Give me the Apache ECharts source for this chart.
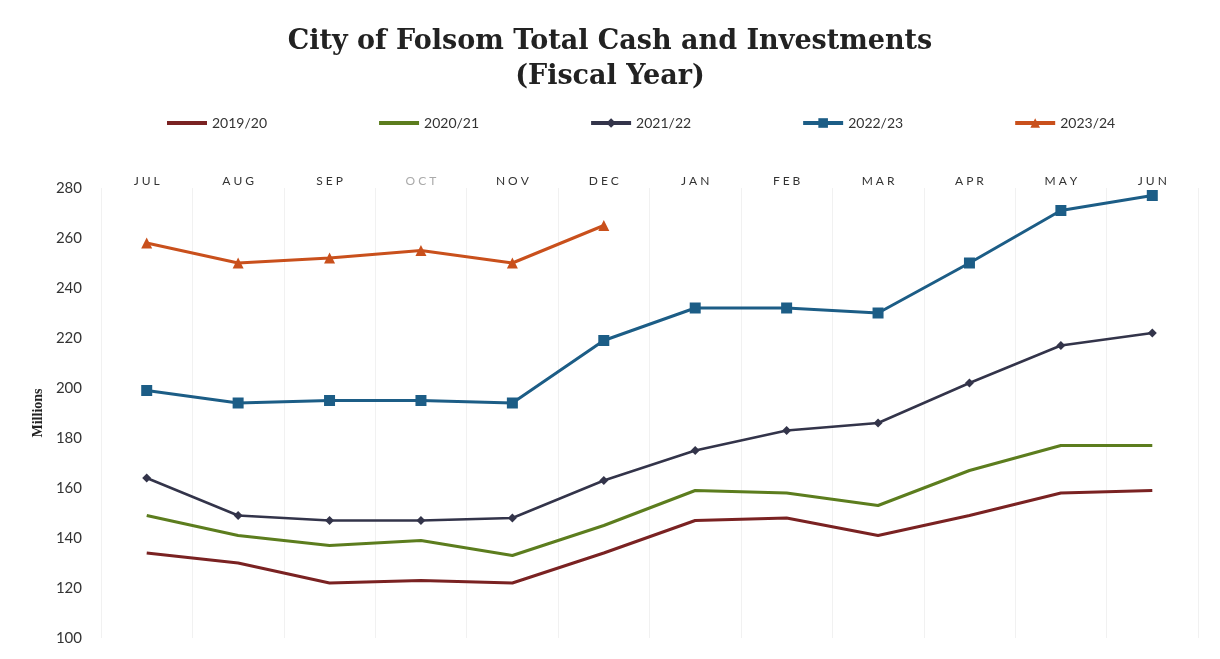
<!DOCTYPE html>
<html>
<head>
<meta charset="utf-8">
<script src="https://cdn.jsdelivr.net/npm/echarts@6/dist/echarts.min.js"></script>
<style>
  html, body { margin: 0; padding: 0; background: #fff; }
  #chart { width: 1220px; height: 659px; }
</style>
</head>
<body>
<div id="chart"></div>
<script>
// months of the fiscal year
const months = ['JUL', 'AUG', 'SEP', 'OCT', 'NOV', 'DEC', 'JAN', 'FEB', 'MAR', 'APR', 'MAY', 'JUN']
const yTicks = [100, 120, 140, 160, 180, 200, 220, 240, 260, 280]

// cash and investments, millions
const fy1920 = [134, 130, 122, 123, 122, 134, 147, 148, 141, 149, 158, 159]
const fy2021 = [149, 141, 137, 139, 133, 145, 159, 158, 153, 167, 177, 177]
const fy2122 = [164, 149, 147, 147, 148, 163, 175, 183, 186, 202, 217, 222]
const fy2223 = [199, 194, 195, 195, 194, 219, 232, 232, 230, 250, 271, 277]
const fy2324 = [258, 250, 252, 255, 250, 265]

const chart = echarts.init(document.getElementById('chart'))

chart.setOption({
  backgroundColor: '#fff',
  animation: false,
  title: {
    text: 'City of Folsom Total Cash and Investments\n(Fiscal Year)',
    left: 'center',
    top: 19,
    textStyle: {
      fontFamily: 'DejaVu Serif',
      fontWeight: 'bold',
      fontSize: 27,
      lineHeight: 35,
      color: '#222'
    }
  },
  legend: {
    top: 111,
    left: 160,
    itemWidth: 40,
    itemHeight: 12,
    itemGap: 110,
    lineStyle: { width: 4 },
    textStyle: { fontFamily: 'Lato', fontSize: 14, color: '#333' },
    // plain lines: hide the legend marker, keep the line
    data: [
      { name: '2019/20', itemStyle: { opacity: 0 } },
      { name: '2020/21', itemStyle: { opacity: 0 } },
      '2021/22', '2022/23', '2023/24'
    ]
  },
  grid: { left: 101, right: 22, top: 188, bottom: 21 },
  xAxis: {
    type: 'category',
    position: 'top',
    data: months,
    boundaryGap: true,
    axisLine: { show: false },
    axisTick: { show: false },
    axisLabel: {
      margin: 1,
      fontFamily: 'Lato',
      fontSize: 12,
      color: function (v) { return v === 'OCT' ? '#aaa' : '#333' },
      formatter: v => v.split('').join('\u2009\u2009')
    },
    splitLine: { show: true, lineStyle: { color: '#f1f1f1', width: 1 } }
  },
  yAxis: {
    type: 'value',
    min: yTicks[0],
    max: yTicks[yTicks.length - 1],
    interval: 20,
    name: 'Millions',
    nameLocation: 'middle',
    nameGap: 45,
    nameRotate: 90,
    nameTextStyle: { fontFamily: 'Liberation Serif', fontWeight: 'bold', fontSize: 14, color: '#222' },
    axisLine: { show: false },
    axisTick: { show: false },
    splitLine: { show: false },
    axisLabel: { margin: 19, fontFamily: 'Lato', fontSize: 15, color: '#333' }
  },
  series: [
    {
      name: '2019/20', type: 'line', data: fy1920,
      symbol: 'none', color: '#7a2222',
      lineStyle: { width: 3 }
    },
    {
      name: '2020/21', type: 'line', data: fy2021,
      symbol: 'none', color: '#5c7d1e',
      lineStyle: { width: 3 }
    },
    {
      name: '2021/22', type: 'line', data: fy2122,
      symbol: 'diamond', symbolSize: 9, color: '#33344a',
      lineStyle: { width: 2.5 }
    },
    {
      name: '2022/23', type: 'line', data: fy2223,
      symbol: 'rect', symbolSize: 11, color: '#1c5d86',
      lineStyle: { width: 3 }
    },
    {
      name: '2023/24', type: 'line', data: fy2324,
      symbol: 'triangle', symbolSize: 11, color: '#c9501c',
      lineStyle: { width: 3 }
    }
  ]
})
</script>
</body>
</html>
